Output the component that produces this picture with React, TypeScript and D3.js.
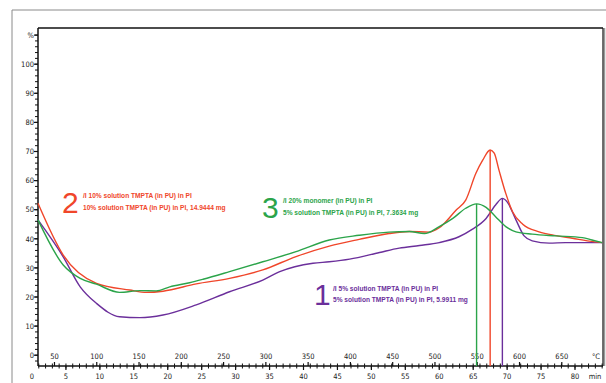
import React from "react";
import * as d3 from "d3";

// curves: [time (min), value (%)]
const curve1 = [
  [0.88, 46.5], [4.6, 33.8], [7.1, 23.5], [9.5, 17.8], [12.9, 13.2], [15.9, 12.9],
  [19.3, 13.8], [24.2, 17.3], [29.1, 21.8], [34.0, 25.8], [36.5, 28.7], [41.4, 31.6],
  [43.8, 32.1], [46.8, 33.0], [51.2, 35.3], [54.1, 36.8], [57.1, 37.7], [60.0, 38.7],
  [62.9, 40.7], [64.9, 43.3], [66.9, 47.0], [68.3, 51.6], [69.3, 53.9], [70.0, 52.7],
  [71.3, 46.5], [72.5, 41.0], [73.7, 39.3], [76.2, 38.5], [78.6, 38.7], [84.0, 38.7],
];
const curve2 = [
  [0.88, 52.2], [4.6, 34.4], [9.5, 24.7], [14.4, 22.4], [16.9, 21.6], [19.3, 22.0],
  [24.2, 24.5], [29.1, 26.4], [34.0, 29.3], [38.9, 33.9], [43.8, 37.5], [48.2, 39.8],
  [52.6, 41.8], [55.6, 42.5], [58.5, 42.3], [60.0, 43.8], [62.5, 49.9], [63.9, 53.3],
  [65.4, 62.5], [66.4, 67.0], [67.5, 70.5], [68.1, 69.4], [68.8, 63.6], [69.8, 55.6],
  [70.8, 49.3], [72.3, 45.0], [74.7, 42.4], [77.2, 41.1], [79.6, 40.2], [82.1, 39.2],
  [84.0, 38.7],
];
const curve3 = [
  [0.88, 46.5], [4.6, 31.0], [7.1, 26.4], [9.5, 24.4], [12.9, 21.6], [15.9, 22.2],
  [18.3, 22.1], [20.3, 23.5], [23.2, 24.9], [25.2, 26.1], [29.1, 28.7], [34.0, 32.1],
  [38.9, 35.6], [43.8, 39.6], [48.2, 41.2], [52.6, 42.3], [55.6, 42.5], [57.8, 41.8],
  [60.0, 44.2], [62.0, 47.0], [63.9, 50.5], [65.5, 52.0], [66.9, 50.8], [68.3, 47.6],
  [69.8, 44.2], [71.3, 42.4], [73.7, 41.6], [77.2, 41.0], [81.1, 40.4], [82.5, 39.6],
  [84.0, 38.7],
];

const seriesColors = ["#6b2f9b", "#f0462a", "#2ba44a"];
const legendNumbers = ["1", "2", "3"];
const legendLine1 = [
  "/I 5% solution TMPTA (in PU) in PI",
  "/I 10% solution  TMPTA (in PU) in PI",
  "/I 20% monomer (in PU) in PI",
];
const legendLine2 = [
  "5% solution  TMPTA (in PU) in PI, 5.9911 mg",
  "10% solution  TMPTA (in PU) in PI, 14.9444 mg",
  "5% solution  TMPTA (in PU) in PI, 7.3634 mg",
];

const yTickValues = [0, 10, 20, 30, 40, 50, 60, 70, 80, 90, 100];
const timeTickValues = [0, 5, 10, 15, 20, 25, 30, 35, 40, 45, 50, 55, 60, 65, 70, 75, 80];
const tempTickValues = [50, 100, 150, 200, 250, 300, 350, 400, 450, 500, 550, 600, 650];

const W = 606;
const H = 383;
const left = 38;
const right = 603;
const top = 28;
const axisY = 366;

const x = d3.scaleLinear().domain([0, 80]).range([32, 575]);
const xT = d3.scaleLinear().domain([0, 650]).range([12.2, 561.8]);
const y = d3.scaleLinear().domain([0, 100]).range([355.2, 64.2]);

// legend placement (number glyph, text block)
const legendPos = [
  { nx: 314, ny: 305, tx: 333, ty: 290.5 },
  { nx: 62, ny: 213, tx: 83, ty: 198 },
  { nx: 262, ny: 218, tx: 283, ty: 203 },
];

const font = "'Liberation Sans', Arial, sans-serif";
const tickFont = "'Liberation Sans Narrow', 'DejaVu Sans Condensed', 'Liberation Sans', sans-serif";

export default function App() {
  const line = d3
    .line<number[]>()
    .x((d) => x(d[0]))
    .y((d) => y(d[1]))
    .curve(d3.curveMonotoneX);

  const curves = [curve1, curve2, curve3];

  const minorY = d3.range(-2, 112, 2);
  const minorT = d3.range(1, 85, 1).filter((t) => x(t) >= left && x(t) <= right);

  return (
    <svg
      width={W}
      height={H}
      style={{ position: "absolute", left: 0, top: 0, background: "#fff" }}
      fontFamily={font}
    >
      {/* outer frame */}
      <line x1={12} x2={W} y1={10} y2={10} stroke="#8a8a8a" strokeWidth={1} />
      <line x1={12} x2={12} y1={10} y2={H} stroke="#8a8a8a" strokeWidth={1} />

      {/* plot frame */}
      <line x1={left} x2={right} y1={top} y2={top} stroke="#111" strokeWidth={1.5} />
      <line x1={right + 1.5} x2={right + 1.5} y1={top} y2={axisY} stroke="#9a9a9a" strokeWidth={1.5} />
      <line x1={right} x2={right} y1={top} y2={axisY} stroke="#111" strokeWidth={1.2} />

      {/* y axis */}
      <g fontFamily={tickFont} fontSize={7.5} fill="#222">
        <line x1={left} x2={left} y1={top} y2={axisY} stroke="#111" strokeWidth={1.5} />
        {minorY.map((v) => (
          <line key={"ym" + v} x1={left - 3} x2={left} y1={y(v)} y2={y(v)} stroke="#111" strokeWidth={1} />
        ))}
        {yTickValues.map((v) => (
          <g key={"y" + v}>
            <line x1={left - 4} x2={left} y1={y(v)} y2={y(v)} stroke="#111" strokeWidth={1.2} />
            <text x={34} y={y(v) + 2.7} textAnchor="end">
              {v}
            </text>
          </g>
        ))}
        <line x1={left - 4} x2={left} y1={y(110)} y2={y(110)} stroke="#111" strokeWidth={1.2} />
        <text x={34} y={y(110) + 2.7} textAnchor="end">
          %
        </text>

        {/* x axis */}
        <line x1={left} x2={right} y1={axisY} y2={axisY} stroke="#111" strokeWidth={1.5} />
        {minorT.map((t) => (
          <line key={"tm" + t} x1={x(t)} x2={x(t)} y1={axisY - 2.5} y2={axisY + 2.5} stroke="#111" strokeWidth={1} />
        ))}
        {timeTickValues.map((t) => (
          <g key={"t" + t}>
            {x(t) >= left && (
              <line x1={x(t)} x2={x(t)} y1={axisY} y2={axisY + 4} stroke="#111" strokeWidth={1.2} />
            )}
            <text x={x(t)} y={379} textAnchor="middle">
              {t}
            </text>
          </g>
        ))}
        <text x={595} y={379} textAnchor="middle">
          min
        </text>
        {tempTickValues.map((c) => (
          <g key={"c" + c}>
            <line x1={xT(c)} x2={xT(c)} y1={axisY - 4} y2={axisY} stroke="#111" strokeWidth={1.2} />
            <text x={xT(c)} y={359} textAnchor="middle">
              {c}
            </text>
          </g>
        ))}
        <text x={596} y={359} textAnchor="middle">
          °C
        </text>
      </g>

      {/* curves and peak markers */}
      {curves.map((c, i) => {
        const peak = d3.greatest(c, (d) => d[1])!;
        return (
          <g key={"s" + i}>
            <line
              x1={x(peak[0])}
              x2={x(peak[0])}
              y1={y(peak[1])}
              y2={axisY}
              stroke={seriesColors[i]}
              strokeWidth={1.4}
            />
            <path d={line(c) || ""} fill="none" stroke={seriesColors[i]} strokeWidth={1.4} />
          </g>
        );
      })}

      {/* legends */}
      {legendNumbers.map((n, i) => {
        const p = legendPos[i];
        return (
          <g key={"l" + i} fill={seriesColors[i]}>
            <text x={p.nx} y={p.ny} fontSize={30}>
              {n}
            </text>
            <text x={p.tx} y={p.ty} fontSize={6.6} fontWeight="bold">
              {legendLine1[i]}
            </text>
            <text x={p.tx} y={p.ty + 11.5} fontSize={6.6} fontWeight="bold">
              {legendLine2[i]}
            </text>
          </g>
        );
      })}
    </svg>
  );
}
